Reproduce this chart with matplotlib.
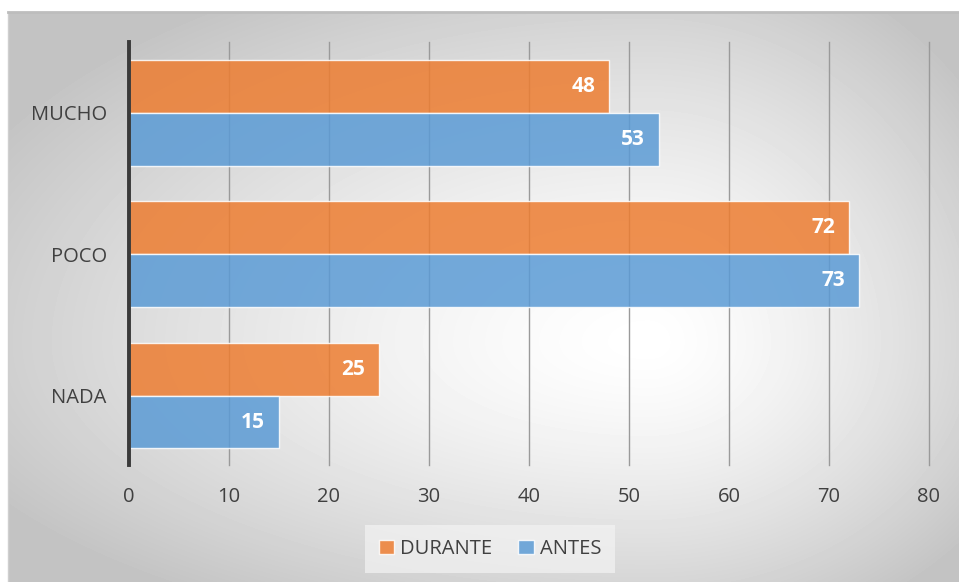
import numpy as np
import matplotlib.pyplot as plt
from matplotlib.patches import Patch

# Survey answers per category
categorias = ["NADA", "POCO", "MUCHO"]
durante = [25, 72, 48]
antes = [15, 73, 53]
ticks_x = [0, 10, 20, 30, 40, 50, 60, 70, 80]

naranja = "#ED7D31"
azul = "#5B9BD5"
texto = "#404040"

plt.rcParams["font.family"] = ["Open Sans", "DejaVu Sans"]

fig = plt.figure(figsize=(9.59, 5.82), dpi=100)
fig.patch.set_facecolor("white")

# Background panel with a soft radial gradient
bg = fig.add_axes([8 / 959, 0, 1 - 8 / 959, (582 - 12) / 582])
W, H = 951, 570
xx, yy = np.meshgrid(np.arange(W), np.arange(H))
cx, cy = 640, 330
dx = xx - cx
dy = yy - cy
ax_r = np.where(dx < 0, 700, 380)
ay_r = np.where(dy < 0, 380, 290)
t = np.sqrt((dx / ax_r) ** 2 + (dy / ay_r) ** 2)
val = np.clip(1 - 0.21 * t ** 1.4, 0.765, 1)
bg.imshow(val, cmap="gray", vmin=0, vmax=1, aspect="auto", interpolation="bilinear")
bg.set_xticks([])
bg.set_yticks([])
for s in bg.spines.values():
    s.set_visible(False)
bg.spines["top"].set_visible(True)
bg.spines["top"].set_color("#bdbdbd")
bg.spines["top"].set_linewidth(2)
bg.spines["left"].set_visible(True)
bg.spines["left"].set_color("#cfcfcf")
bg.spines["left"].set_linewidth(1)

ax = fig.add_axes([129 / 959, (582 - 465) / 582, 800 / 959, 423 / 582])
ax.set_facecolor("none")

y = np.arange(len(categorias))
h = 0.373
b1 = ax.barh(y + h / 2, durante, height=h, color=naranja, alpha=0.85,
             edgecolor=(1, 1, 1, 0.5), linewidth=1, zorder=3)
b2 = ax.barh(y - h / 2, antes, height=h, color=azul, alpha=0.85,
             edgecolor=(1, 1, 1, 0.5), linewidth=1, zorder=3)

for bars, vals in ((b1, durante), (b2, antes)):
    for rect, v in zip(bars, vals):
        ax.annotate(str(v), (v, rect.get_y() + rect.get_height() / 2),
                    xytext=(-10, 0), textcoords="offset points",
                    ha="right", va="center", color="white",
                    fontsize=15, fontweight="bold", zorder=4)

ax.set_xlim(0, 80)
ax.set_ylim(-0.49, 2.5)
ax.set_xticks(ticks_x)
ax.set_yticks(y)
ax.set_yticklabels(categorias)
ax.tick_params(axis="both", length=0, labelsize=14.5, colors=texto)
ax.tick_params(axis="x", pad=16)
ax.tick_params(axis="y", pad=16)
ax.xaxis.grid(True, color="#9a9a9a", linewidth=1, zorder=1)
for gl in ax.get_xgridlines():
    gl.set_clip_on(False)
ax.set_axisbelow(True)
for s in ["top", "right", "bottom"]:
    ax.spines[s].set_visible(False)
ax.spines["left"].set_color("#3a3a3a")
ax.spines["left"].set_linewidth(2.8)
ax.spines["left"].set_zorder(5)

handles = [Patch(facecolor=naranja, alpha=0.85, edgecolor=(1, 1, 1, 0.5)),
           Patch(facecolor=azul, alpha=0.85, edgecolor=(1, 1, 1, 0.5))]
leg = fig.legend(handles, ["DURANTE", "ANTES"], loc="center",
                 bbox_to_anchor=(490 / 959, 1 - 549 / 582), ncol=2,
                 frameon=True, fontsize=14.5, handlelength=0.75, handleheight=0.75,
                 handletextpad=0.3, columnspacing=1.3, borderpad=0.7)
leg.get_frame().set_facecolor("#f3f3f3")
leg.get_frame().set_edgecolor("none")
leg.get_frame().set_alpha(0.7)
leg.get_frame().set_boxstyle("square", pad=0.0)
for txt in leg.get_texts():
    txt.set_color(texto)

fig.savefig("out.png", dpi=100)
